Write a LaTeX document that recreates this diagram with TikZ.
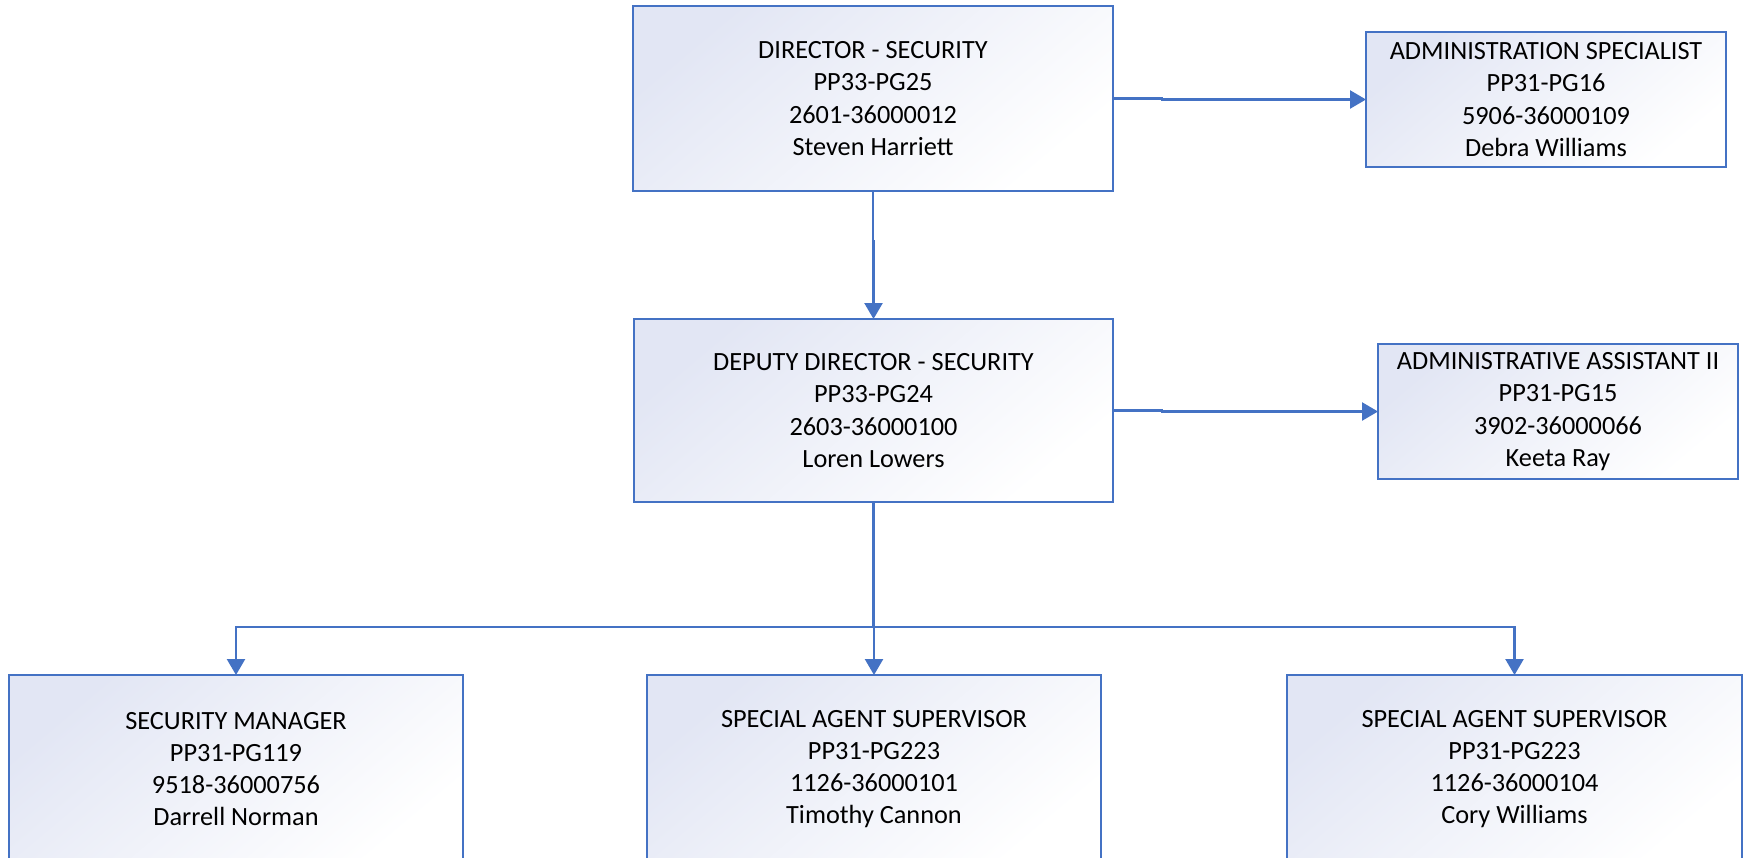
\documentclass[tikz,border=0pt]{standalone}
\usepackage{fontspec}
\setmainfont{Carlito}
\usetikzlibrary{arrows.meta}
\definecolor{linkblue}{HTML}{4472C4}
\definecolor{boxtint}{HTML}{E2E6F4}
\tikzset{
  posbox/.style={draw=linkblue, line width=2pt, inner sep=0pt, outer sep=0pt,
    top color=boxtint, middle color=white, bottom color=white, shading angle=40,
    align=center, text=black,
    font=\fontsize{26.3}{32.2}\selectfont},
  link/.style={draw=linkblue, line width=2.4pt,
    -{Triangle[width=18pt,length=16pt]}}
}
\begin{document}
\begin{tikzpicture}[x=1pt,y=-1pt]
\clip (0,0) rectangle (1744,857);
\fill[white] (0,0) rectangle (1744,857);

% top level
\node[posbox, minimum width=480pt, minimum height=185pt] (dir) at (873,98.5)
  {DIRECTOR - SECURITY\\PP33-PG25\\2601-36000012\\Steven Harriett};
\node[posbox, minimum width=360pt, minimum height=135pt] (spec) at (1546,99.5)
  {ADMINISTRATION SPECIALIST\\PP31-PG16\\5906-36000109\\Debra Williams};

% second level
\node[posbox, minimum width=479pt, minimum height=183pt] (dep) at (873.5,410.5)
  {DEPUTY DIRECTOR - SECURITY\\PP33-PG24\\2603-36000100\\Loren Lowers};
\node[posbox, minimum width=360pt, minimum height=135pt] (asst) at (1558,411.5)
  {ADMINISTRATIVE ASSISTANT II\\PP31-PG15\\3902-36000066\\Keeta Ray};

% third level (lower edges run past the page)
\node[posbox, minimum width=454pt, minimum height=188pt] (sm) at (236,769)
  {SECURITY MANAGER\\PP31-PG119\\9518-36000756\\Darrell Norman};
\node[posbox, minimum width=454pt, minimum height=188pt] (sa1) at (874,769)
  {SPECIAL AGENT SUPERVISOR\\PP31-PG223\\1126-36000101\\Timothy Cannon};
\node[posbox, minimum width=455pt, minimum height=188pt] (sa2) at (1514.5,769)
  {SPECIAL AGENT SUPERVISOR\\PP31-PG223\\1126-36000104\\Cory Williams};

% reporting lines
\draw[link] (dir.east) -- ++(49,0) |- (spec.west);
\draw[link] (dep.east) -- ++(49,0) |- (asst.west);
\draw[link] (dir.south) -- ++(0,50) -| (dep.north);
\draw[link] (dep.south) -- ++(0,125) -| (sm.north);
\draw[link] (dep.south) -- ++(0,125) -| (sa1.north);
\draw[link] (dep.south) -- ++(0,125) -| (sa2.north);
\end{tikzpicture}
\end{document}
